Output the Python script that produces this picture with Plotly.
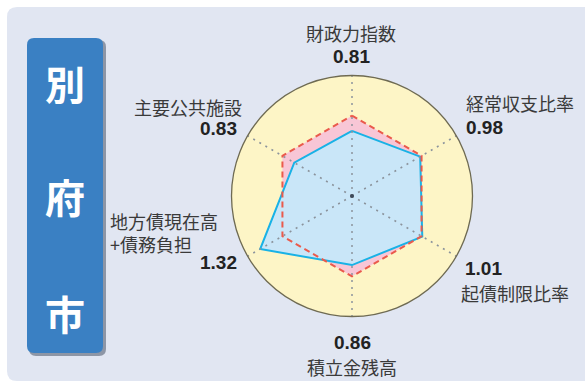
import plotly.graph_objects as go

W, H = 585, 383

# ---- data ----
categories = ["財政力指数", "経常収支比率", "起債制限比率", "積立金残高", "地方債現在高+債務負担", "主要公共施設"]
values = [0.81, 0.98, 1.01, 0.86, 1.32, 0.83]
reference = [1.0, 1.0, 1.0, 1.0, 1.0, 1.0]
city_name = ["別", "府", "市"]
value_labels = ["0.81", "0.98", "1.01", "0.86", "1.32", "0.83"]
r_max = 1.5


def px(x):
    return x / W


def py(y):
    return 1 - y / H


def rounded_rect(x0, y0, x1, y1, r):
    return (
        f"M {px(x0 + r)},{py(y0)} L {px(x1 - r)},{py(y0)} "
        f"Q {px(x1)},{py(y0)} {px(x1)},{py(y0 + r)} "
        f"L {px(x1)},{py(y1 - r)} Q {px(x1)},{py(y1)} {px(x1 - r)},{py(y1)} "
        f"L {px(x0 + r)},{py(y1)} Q {px(x0)},{py(y1)} {px(x0)},{py(y1 - r)} "
        f"L {px(x0)},{py(y0 + r)} Q {px(x0)},{py(y0)} {px(x0 + r)},{py(y0)} Z"
    )


theta_closed = categories + [categories[0]]
vals_closed = values + [values[0]]
ref_closed = reference + [reference[0]]

fig = go.Figure()

# pink reference area
fig.add_trace(go.Scatterpolar(
    r=ref_closed, theta=theta_closed, mode="lines", fill="toself",
    fillcolor="#f8c6d6", line=dict(color="rgba(0,0,0,0)", width=0),
    hoverinfo="skip", showlegend=False))

# blue data area
fig.add_trace(go.Scatterpolar(
    r=vals_closed, theta=theta_closed, mode="lines", fill="toself",
    fillcolor="#c9e6f8", line=dict(color="#19b2e6", width=2),
    showlegend=False))

# dotted spokes drawn above the fills
for cat in categories:
    fig.add_trace(go.Scatterpolar(
        r=[0, r_max], theta=[cat, cat], mode="lines",
        line=dict(color="#8b939c", width=1.5, dash="2px,5px"),
        hoverinfo="skip", showlegend=False))

# red dashed reference outline
fig.add_trace(go.Scatterpolar(
    r=ref_closed, theta=theta_closed, mode="lines",
    line=dict(color="#ea5a4c", width=2, dash="6px,4px"),
    hoverinfo="skip", showlegend=False))

# center dot
fig.add_trace(go.Scatterpolar(
    r=[0], theta=[categories[0]], mode="markers",
    marker=dict(color="#3d4a5a", size=4), hoverinfo="skip", showlegend=False))

cx, cy, R = 352, 196, 120.5

fig.update_layout(
    width=W, height=H,
    margin=dict(l=0, r=0, t=0, b=0),
    paper_bgcolor="white",
    polar=dict(
        domain=dict(x=[px(cx - R), px(cx + R)], y=[py(cy + R), py(cy - R)]),
        bgcolor="#fdf5c6",
        radialaxis=dict(range=[0, r_max], showgrid=False, showline=False,
                        showticklabels=False, ticks=""),
        angularaxis=dict(rotation=90, direction="clockwise",
                         showticklabels=False, ticks="",
                         showline=True, linecolor="#6e6a52", linewidth=1.3,
                         showgrid=False),
    ),
    shapes=[
        dict(type="path", xref="paper", yref="paper", layer="below",
             path=rounded_rect(7, 7, 600, 381, 10),
             fillcolor="#e1e6f2", line=dict(width=0)),
        dict(type="path", xref="paper", yref="paper", layer="below",
             path=rounded_rect(29, 40, 106, 356, 7),
             fillcolor="#8d96a6", line=dict(width=0)),
        dict(type="path", xref="paper", yref="paper", layer="below",
             path=rounded_rect(27, 38, 103, 353, 7),
             fillcolor="#3a80c3", line=dict(width=0)),
    ],
)

label_font = dict(family="Noto Sans CJK JP", size=18, color="#3a3a3a")
num_font = dict(family="Liberation Sans", size=19, color="#222222", weight="bold")

annotations = []


def ann(text, x, y, xanchor, font, align="center"):
    annotations.append(dict(text=text, x=px(x), y=py(y), xref="paper", yref="paper",
                            xanchor=xanchor, yanchor="middle", showarrow=False,
                            font=font, align=align))


# top
ann(categories[0], 351, 33, "center", label_font)
ann(value_labels[0], 351, 57, "center", num_font)
# upper right
ann(categories[1], 464, 103, "left", label_font)
ann(value_labels[1], 464, 127, "left", num_font)
# lower right
ann(value_labels[2], 463, 268, "left", num_font)
ann(categories[2], 459, 293, "left", label_font)
# bottom
ann(value_labels[3], 352, 342, "center", num_font)
ann(categories[3], 352, 367, "center", label_font)
# lower left
ann("地方債現在高<br>+債務負担", 108, 232, "left", label_font, align="left")
ann(value_labels[4], 239, 262, "right", num_font)
# upper left
ann(categories[5], 244, 107, "right", label_font)
ann(value_labels[5], 239, 128, "right", num_font)

big_font = dict(family="Noto Sans CJK JP", size=40, color="white", weight="bold")
for ch, yy in zip(city_name, [83, 196, 313]):
    ann(ch, 65, yy, "center", big_font)

fig.update_layout(annotations=annotations)

fig.write_html("out.html",
               config={"displayModeBar": False, "staticPlot": True},
               post_script="document.body.style.margin='0';document.body.style.overflow='hidden';")
